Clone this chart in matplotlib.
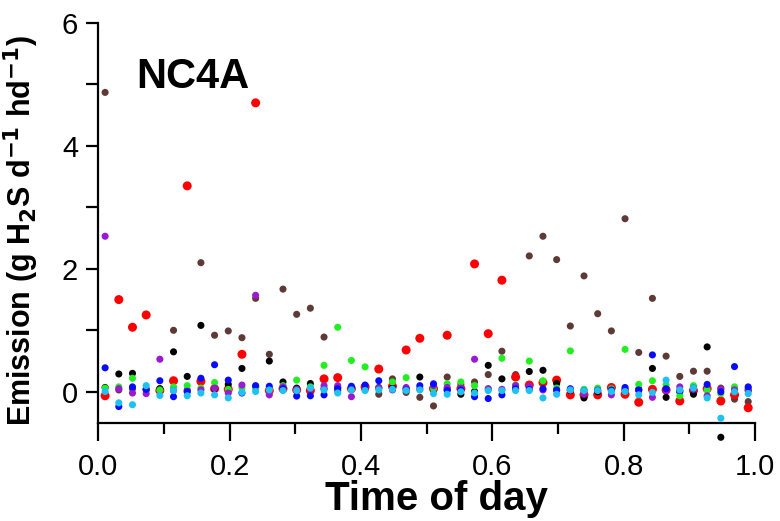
import numpy as np
import matplotlib
matplotlib.use('Agg')
import matplotlib.pyplot as plt
from matplotlib.ticker import MultipleLocator

plt.rcParams['font.family'] = ['Liberation Sans', 'DejaVu Sans']

# half-hour slots, plotted at the middle of each slot
slots = np.arange(48)
time_of_day = (slots + 0.5) / 48

# emission per slot, one list per series (g H2S d-1 hd-1)
brown = [4.87, 0.03, 0.05, 0.03, 0.05, 1.00, 0.03, 2.10, 0.92, 0.99, 0.88, 1.52,
         0.61, 1.67, 1.26, 1.36, 0.89, 0.02, 0.05, 0.06, -0.04, 0.21, -0.01, -0.09,
         -0.23, 0.24, 0.12, 0.16, 0.28, 0.66, 0.28, 2.21, 2.53, 2.15, 1.07, 1.885,
         1.27, 0.99, 2.815, 0.64, 1.52, 0.58, 0.25, 0.335, 0.335, 0.06, -0.12, -0.16]
red = [-0.065, 1.50, 1.05, 1.25, 0.02, 0.18, 3.35, 0.17, 0.05, 0.04, 0.61, 4.70,
       0.02, 0.05, 0.03, 0.02, 0.21, 0.23, 0.05, 0.08, 0.37, 0.09, 0.68, 0.87,
       0.05, 0.92, 0.05, 2.08, 0.945, 1.815, 0.24, 0.11, 0.15, 0.19, -0.05, -0.05,
       -0.05, 0.07, -0.04, -0.17, 0.04, 0.03, -0.15, 0.02, 0.05, -0.15, -0.05, -0.26]
black = [0.07, 0.29, 0.30, 0.04, 0.05, 0.65, 0.25, 1.08, 0.05, 0.12, 0.38, 0.08,
         0.50, 0.16, 0.06, 0.135, 0.05, 0.07, 0.06, 0.04, 0.07, 0.06, 0.05, 0.24,
         0.04, 0.04, -0.04, 0.005, 0.43, 0.21, 0.05, 0.33, 0.35, 0.135, 0.02, -0.10,
         0.00, 0.04, 0.03, 0.04, 0.38, -0.09, 0.00, -0.04, 0.73, -0.74, 0.04, 0.02]
green = [0.06, 0.08, 0.22, 0.05, 0.03, 0.08, 0.10, 0.06, 0.15, 0.04, 0.07, 0.06,
         0.05, 0.10, 0.19, 0.08, 0.43, 1.05, 0.51, 0.405, 0.06, 0.16, 0.23, 0.06,
         0.05, 0.13, 0.16, 0.10, 0.05, 0.545, 0.11, 0.50, 0.18, 0.06, 0.665, 0.04,
         0.06, 0.05, 0.69, 0.12, 0.18, 0.11, -0.065, 0.10, 0.03, -0.03, 0.08, 0.06]
purple = [2.53, 0.05, -0.02, -0.03, 0.53, 0.02, 0.01, 0.03, 0.06, -0.02, 0.11, 1.57,
          -0.05, 0.08, 0.04, 0.05, 0.10, 0.10, -0.08, 0.05, 0.06, 0.03, 0.07, 0.04,
          0.10, 0.07, 0.06, 0.53, 0.05, 0.04, 0.10, 0.09, 0.03, 0.02, 0.03, -0.04,
          0.03, -0.05, 0.04, 0.02, -0.09, 0.02, 0.08, 0.04, -0.065, 0.04, 0.03, 0.04]
blue = [0.39, -0.24, 0.08, 0.04, 0.18, -0.08, 0.00, 0.22, 0.44, 0.19, -0.02, 0.10,
        0.09, 0.05, -0.07, -0.065, -0.05, 0.05, 0.09, 0.11, 0.18, 0.05, 0.03, 0.10,
        0.13, 0.02, 0.03, -0.08, -0.11, -0.05, 0.05, 0.04, 0.05, 0.03, 0.05, 0.02,
        0.02, 0.03, 0.07, 0.03, 0.60, 0.05, 0.02, 0.06, 0.12, 0.00, 0.41, 0.08]
cyan = [0.005, -0.18, -0.21, 0.10, -0.06, 0.02, -0.065, -0.02, -0.05, -0.10, -0.01, 0.005,
        0.03, 0.02, 0.02, 0.06, 0.03, -0.02, 0.03, 0.02, 0.03, 0.04, 0.02, 0.03,
        -0.03, -0.04, 0.00, -0.02, 0.02, 0.02, 0.02, 0.02, -0.10, -0.04, 0.03, 0.02,
        0.02, 0.005, 0.005, -0.05, -0.01, 0.19, 0.03, 0.06, -0.10, -0.43, 0.00, -0.03]

series = [
    (brown, '#5e3a36', 26),
    (red, '#ff0000', 42),
    (black, '#000000', 26),
    (green, '#22ee22', 26),
    (purple, '#9a1ad2', 26),
    (blue, '#0a0aff', 26),
    (cyan, '#1ec1f0', 26),
]

fig = plt.figure(figsize=(7.8, 5.21), dpi=100)
ax = fig.add_axes([0.126, 0.189, 0.842, 0.767])

for values, color, size in series:
    ax.scatter(time_of_day, values, s=size, color=color, edgecolors='none',
               clip_on=False, zorder=3)

ax.set_xlim(0, 1)
ax.set_ylim(-0.5, 6)

ax.spines['top'].set_visible(False)
ax.spines['right'].set_visible(False)
ax.spines['left'].set_linewidth(1.6)
ax.spines['bottom'].set_linewidth(1.6)

ax.set_xticks([0, 0.2, 0.4, 0.6, 0.8, 1.0])
ax.set_xticklabels(['0.0', '0.2', '0.4', '0.6', '0.8', '1.0'])
ax.xaxis.set_minor_locator(MultipleLocator(0.1))
ax.set_yticks([0, 2, 4, 6])
ax.yaxis.set_minor_locator(MultipleLocator(1))

ax.tick_params(axis='x', which='major', length=13, width=1.6, labelsize=21, pad=9)
ax.tick_params(axis='x', which='minor', length=8, width=1.6)
ax.tick_params(axis='y', which='both', length=8.5, width=1.6, labelsize=21, pad=6)

ax.set_xlabel('Time of day', fontsize=29, fontweight='bold', va='top')
ax.xaxis.set_label_coords(0.515, -0.145)
ax.set_ylabel('Emission (g H$_\\mathbf{2}$S d$^\\mathbf{-1}$ hd$^\\mathbf{-1}$)',
              fontsize=22, fontweight='bold')
ax.yaxis.set_label_coords(-0.087, 0.48)

ax.text(0.058, 0.838, 'NC4A', transform=ax.transAxes, fontsize=30,
        fontweight='bold', va='baseline', ha='left')

fig.savefig('out.png', dpi=100)
